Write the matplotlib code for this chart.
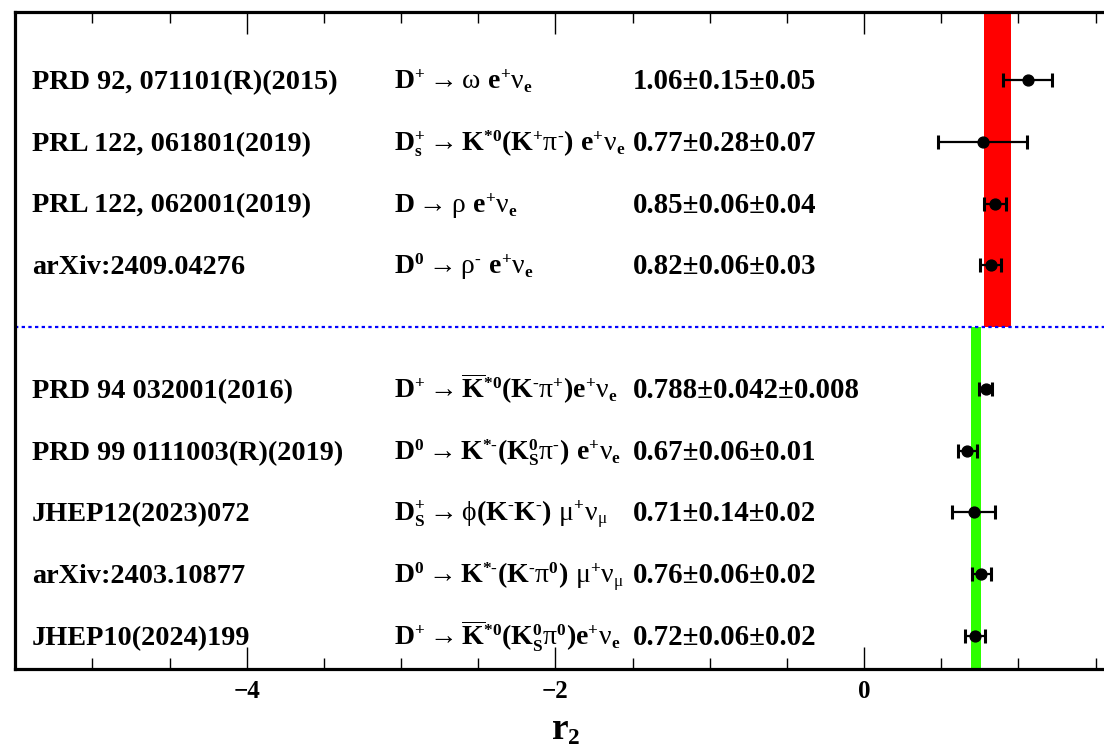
import numpy as np
import matplotlib
matplotlib.use("Agg")
import matplotlib.pyplot as plt
import matplotlib._mathtext as _mt
from matplotlib.transforms import blended_transform_factory
from matplotlib.ticker import MultipleLocator

# ---------------- data ----------------
references = [
    "PRD 92, 071101(R)(2015)",
    "PRL 122, 061801(2019)",
    "PRL 122, 062001(2019)",
    "arXiv:2409.04276",
    "PRD 94 032001(2016)",
    "PRD 99 0111003(R)(2019)",
    "JHEP12(2023)072",
    "arXiv:2403.10877",
    "JHEP10(2024)199",
]
M = "‐"  # short minus as in the original
decays = [
    r"$\mathrm{D^{+}\rightarrow\mathsf{ω}\ e^{+}\mathsf{ν}_{e}}$",
    r"$\mathrm{D_{s}^{+}\rightarrow K^{*0}(K^{+}\mathsf{π}^{M})\ e^{+}\mathsf{ν}_{e}}$",
    r"$\mathrm{D\rightarrow\mathsf{ρ}\ e^{+}\mathsf{ν}_{e}}$",
    r"$\mathrm{D^{0}\rightarrow\mathsf{ρ}^{M}\ e^{+}\mathsf{ν}_{e}}$",
    r"$\mathrm{D^{+}\rightarrow\overline{K}^{*0}(K^{M}\mathsf{π}^{+})e^{+}\mathsf{ν}_{e}}$",
    r"$\mathrm{D^{0}\rightarrow K^{*M}(K_{S}^{0}\mathsf{π}^{M})\ e^{+}\mathsf{ν}_{e}}$",
    r"$\mathrm{D_{S}^{+}\rightarrow\mathsf{ϕ}(K^{M}K^{M})\ \mathsf{μ}^{+}\mathsf{ν}_{\mathsf{μ}}}$",
    r"$\mathrm{D^{0}\rightarrow K^{*M}(K^{M}\mathsf{π}^{0})\ \mathsf{μ}^{+}\mathsf{ν}_{\mathsf{μ}}}$",
    r"$\mathrm{D^{+}\rightarrow\overline{K}^{*0}(K_{S}^{0}\mathsf{π}^{0})e^{+}\mathsf{ν}_{e}}$",
]
decays = [d.replace("^{M}", "^{" + M + "}").replace("*M}", "*" + M + "}") for d in decays]
values = [1.06, 0.77, 0.85, 0.82, 0.788, 0.67, 0.71, 0.76, 0.72]
stat_err = [0.15, 0.28, 0.06, 0.06, 0.042, 0.06, 0.14, 0.06, 0.06]
syst_err = [0.05, 0.07, 0.04, 0.03, 0.008, 0.01, 0.02, 0.02, 0.02]

# average bands: (low, high)
red_band = (0.78, 0.95)
green_band = (0.69, 0.76)

xticks_major = [-4, -2, 0]

# ---------------- style ----------------
_mt.SHRINK_FACTOR = 0.62
plt.rcParams['font.family'] = ['Liberation Serif', 'DejaVu Serif']
plt.rcParams['mathtext.fontset'] = 'custom'
plt.rcParams['mathtext.rm'] = 'Liberation Serif:bold'
plt.rcParams['mathtext.it'] = 'Liberation Serif:bold'
plt.rcParams['mathtext.bf'] = 'Liberation Serif:bold'
plt.rcParams['mathtext.sf'] = 'Liberation Serif'

W, H = 1104, 751
fig = plt.figure(figsize=(W / 100, H / 100), dpi=100)
left_px, top_px, bot_px = 15.3, 12.0, 669.3
ax = fig.add_axes([left_px / W, 1 - bot_px / H, 1 - left_px / W, (bot_px - top_px) / H])

ypos = np.array([10, 9, 8, 7, 5, 4, 3, 2, 1], dtype=float)
ymin, ymax = 0.461, 11.10
div_y = 6.0
ax.set_xlim(-5.5, 1.555)
ax.set_ylim(ymin, ymax)

# bands
ax.fill_betweenx([div_y, ymax], red_band[0], red_band[1], color='#ff0000', lw=0, zorder=1)
ax.fill_betweenx([ymin, div_y], green_band[0], green_band[1], color='#2eff00', lw=0, zorder=1)

# divider
ax.axhline(div_y, color='#0000ff', lw=1.6, ls=(0, (1.5, 1.5)), zorder=2)

# points
vals = np.array(values)
tot = np.sqrt(np.array(stat_err) ** 2 + np.array(syst_err) ** 2)
ax.errorbar(vals, ypos, xerr=tot, fmt='o', color='black', ms=7.8, elinewidth=1.6,
            capsize=4.8, capthick=2.2, zorder=5)

# text columns
tr = blended_transform_factory(fig.transFigure, ax.transData)
yoff = 0.146
for y, r, d, v, s, e in zip(ypos, references, decays, values, stat_err, syst_err):
    ax.text(32 / W, y - yoff, r, transform=tr, fontsize=20.3, fontweight='bold',
            va='baseline', ha='left')
    ax.text(394 / W, y - yoff, d, transform=tr, fontsize=20, va='baseline', ha='left')
    ax.text(633 / W, y - yoff, f"{v:g}±{s:g}±{e:g}", transform=tr, fontsize=20.8,
            fontweight='bold', va='baseline', ha='left')

# axes styling
for sp in ['left', 'top', 'bottom']:
    ax.spines[sp].set_linewidth(2.3)
ax.spines['right'].set_visible(False)
ax.set_yticks([])
ax.xaxis.set_minor_locator(MultipleLocator(0.5))
ax.set_xticks(xticks_major)
ax.tick_params(axis='x', which='major', direction='in', top=True, length=16, width=1.0,
               labelsize=18, pad=8)
ax.tick_params(axis='x', which='minor', direction='in', top=True, length=8, width=1.0)
for lab in ax.get_xticklabels():
    lab.set_fontweight('bold')

fig.text(566 / W, 1 - 730 / H, r"$\mathrm{r_{2}}$", fontsize=27, ha='center', va='center')

fig.savefig("out.png", dpi=100)
